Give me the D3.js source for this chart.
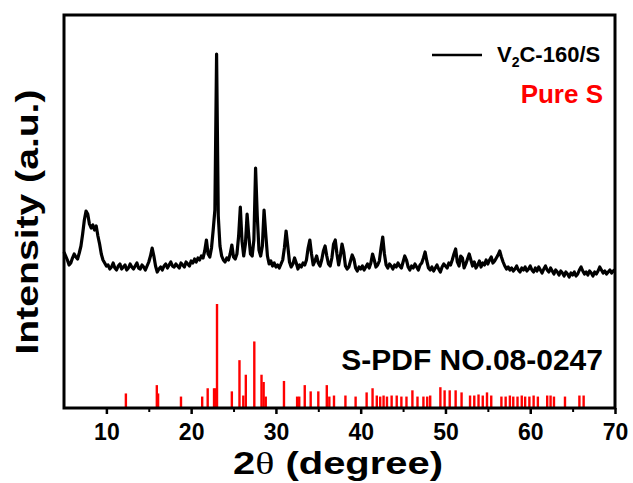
<!DOCTYPE html>
<html>
<head>
<meta charset="utf-8">
<script src="https://cdn.jsdelivr.net/npm/d3@7"></script>
<style>
  body { margin: 0; background: #fff; }
  svg { display: block; font-family: Arial, "Liberation Sans", sans-serif; }
</style>
</head>
<body>
<svg width="633" height="483"></svg>
<script>
// measured scan: 2theta from 5 to 70 deg, step 0.2
const scanStart = 5;
const scanStep = 0.2;
const xrdIntensity = [
  154,150,146,141,143,148,152,149,147,153,160,172,186,195,192,182,178,181,176,180,170,162,152,146,143,140,
  141,137,139,143,138,136,140,142,137,139,141,136,138,142,139,137,140,143,138,137,141,139,136,140,144,
  150,158,150,140,134,137,139,136,140,142,138,141,144,140,139,142,140,138,143,141,139,144,142,140,145,
  143,147,144,148,146,150,148,155,166,152,149,158,176,196,352,190,160,150,146,144,148,146,152,161,149,
  147,152,170,199,165,150,162,192,170,152,150,166,238,190,156,150,160,196,172,150,142,145,140,143,139,
  141,138,142,146,158,175,160,144,139,142,148,143,137,141,139,143,141,146,158,166,152,141,145,150,143,
  140,146,155,160,150,142,140,148,162,166,152,141,150,162,154,140,137,139,145,151,147,138,135,139,137,
  140,136,139,142,138,143,152,146,139,141,145,158,169,152,141,138,142,140,137,141,139,143,140,138,144,
  150,146,139,136,140,138,142,139,136,141,143,148,154,145,138,136,139,135,138,141,137,134,139,142,140,
  138,143,141,146,152,157,144,140,150,148,138,142,147,152,146,140,144,138,141,145,139,143,141,146,142,
  146,149,143,145,148,151,155,149,144,140,137,139,136,138,135,137,140,136,134,138,136,139,135,137,140,
  136,134,138,135,139,136,133,137,140,136,134,138,135,132,136,134,131,135,133,130,134,132,129,133,131,
  134,130,132,136,139,135,132,134,131,135,133,130,134,132,135,139,136,133,135,132,134,136,133,135,136
];

// reference pattern S-PDF 08-0247 (relative intensity)
const pdfAngle = [
  12.3, 15.95, 16.1, 18.8, 21.3, 21.95, 22.7, 22.9, 23.05, 24.8,
  25.7, 26.15, 26.45, 27.45, 28.3, 28.55, 28.8, 30.95, 32.5, 32.75,
  33.4, 34.1, 35.0, 36.0, 36.3, 36.85, 38.2, 39.4, 40.7, 41.4,
  41.9, 42.3, 42.7, 43.1, 43.65, 44.25, 44.8, 45.4, 46.1, 46.7,
  47.4, 47.85, 48.2, 49.4, 49.9, 50.5, 51.2, 51.9, 52.9, 53.4,
  53.9, 54.4, 54.9, 55.4, 56.6, 57.1, 57.6, 58.0, 58.5, 59.0,
  59.4, 59.9, 60.4, 60.9, 62.0, 62.4, 62.8, 64.1, 65.8, 66.3
];
const pdfIntensity = [
  14, 22, 14, 11, 11, 19, 19, 19, 100, 16,
  46, 12, 32, 64, 32, 25, 11, 26, 11, 11,
  22, 16, 16, 22, 11, 12, 12, 11, 15, 19,
  12, 11, 12, 11, 12, 12, 11, 11, 17, 11,
  11, 11, 12, 20, 17, 17, 17, 15, 12, 12,
  13, 12, 15, 12, 11, 11, 12, 11, 11, 12,
  11, 11, 12, 11, 12, 12, 11, 11, 12, 12
];

const xTickValues = [10, 20, 30, 40, 50, 60, 70];
const xMinorTickValues = [15, 25, 35, 45, 55, 65];

const seriesNames = ["V2C-160/S", "Pure S"];
const pdfLabel = "S-PDF NO.08-0247";

var svg = d3.select("svg");
// "top" is taken by window.top, so plot edges get their own names
var plotLeft = 64, plotRight = 615, plotTop = 15, plotBottom = 408;

var x = d3.scaleLinear().domain([5, 70]).range([plotLeft, plotRight]);
var y = d3.scaleLinear().domain([0, 391]).range([406, plotTop]);
var yPdf = d3.scaleLinear().domain([0, 100]).range([plotBottom, 304]);

var scan = xrdIntensity.map(function (v, i) {
  return [scanStart + i * scanStep, v];
});

// sticks
svg.append("g")
  .selectAll("line")
  .data(pdfAngle)
  .enter()
  .append("line")
  .attr("x1", function (d) { return x(d); })
  .attr("x2", function (d) { return x(d); })
  .attr("y1", yPdf(0))
  .attr("y2", function (d, i) { return yPdf(pdfIntensity[i]); })
  .attr("stroke", "#f00")
  .attr("stroke-width", 2.4);

// xrd curve
var line = d3.line()
  .x(function (d) { return x(d[0]); })
  .y(function (d) { return y(d[1]); });

svg.append("path")
  .datum(scan)
  .attr("d", line)
  .attr("fill", "none")
  .attr("stroke", "#000")
  .attr("stroke-width", 3.2)
  .attr("stroke-linejoin", "round");

// frame
svg.append("rect")
  .attr("x", plotLeft)
  .attr("y", plotTop)
  .attr("width", plotRight - plotLeft)
  .attr("height", plotBottom - plotTop)
  .attr("fill", "none")
  .attr("stroke", "#000")
  .attr("stroke-width", 3);

// x axis
var xAxis = svg.append("g")
  .attr("transform", "translate(0," + plotBottom + ")")
  .call(d3.axisBottom(x).tickValues(xTickValues).tickSize(6).tickSizeOuter(0));

xAxis.select(".domain").remove();
xAxis.selectAll("line").attr("stroke-width", 2.5);
xAxis.selectAll("text")
  .attr("y", 16)
  .attr("fill", "#000")
  .style("font-size", "23px")
  .style("font-weight", "bold")
  .style("font-family", "Arial, 'Liberation Sans', sans-serif");

var xMinor = svg.append("g")
  .attr("transform", "translate(0," + plotBottom + ")")
  .call(d3.axisBottom(x).tickValues(xMinorTickValues).tickSize(4).tickFormat(""));
xMinor.select(".domain").remove();
xMinor.selectAll("line").attr("stroke-width", 2);

// axis titles
var xTitle = svg.append("text")
  .attr("x", 338)
  .attr("y", 474)
  .attr("text-anchor", "middle")
  .attr("textLength", 210)
  .attr("lengthAdjust", "spacingAndGlyphs")
  .style("font-size", "31px")
  .style("font-weight", "bold");
xTitle.append("tspan").text("2");
xTitle.append("tspan")
  .style("font-weight", "normal")
  .style("font-family", "'Liberation Serif', serif")
  .text("\u03b8");
xTitle.append("tspan").text(" (degree)");

svg.append("text")
  .attr("transform", "translate(38,222) rotate(-90)")
  .attr("text-anchor", "middle")
  .attr("textLength", 265)
  .attr("lengthAdjust", "spacingAndGlyphs")
  .style("font-size", "32px")
  .style("font-weight", "bold")
  .text("Intensity (a.u.)");

// legend
svg.append("line")
  .attr("x1", 432)
  .attr("x2", 482)
  .attr("y1", 55)
  .attr("y2", 55)
  .attr("stroke", "#000")
  .attr("stroke-width", 2.6);

var leg = svg.append("text")
  .attr("x", 497)
  .attr("y", 62)
  .style("font-size", "22px")
  .style("font-weight", "bold");
leg.append("tspan").text("V");
leg.append("tspan").attr("dy", 5).style("font-size", "14px").text("2");
leg.append("tspan").attr("dy", -5).text("C-160/S");

svg.append("text")
  .attr("x", 603)
  .attr("y", 103)
  .attr("text-anchor", "end")
  .attr("fill", "#f00")
  .style("font-size", "26px")
  .style("font-weight", "bold")
  .text(seriesNames[1]);

svg.append("text")
  .attr("x", 603)
  .attr("y", 370)
  .attr("text-anchor", "end")
  .style("font-size", "30px")
  .style("font-weight", "bold")
  .text(pdfLabel);
</script>
</body>
</html>
